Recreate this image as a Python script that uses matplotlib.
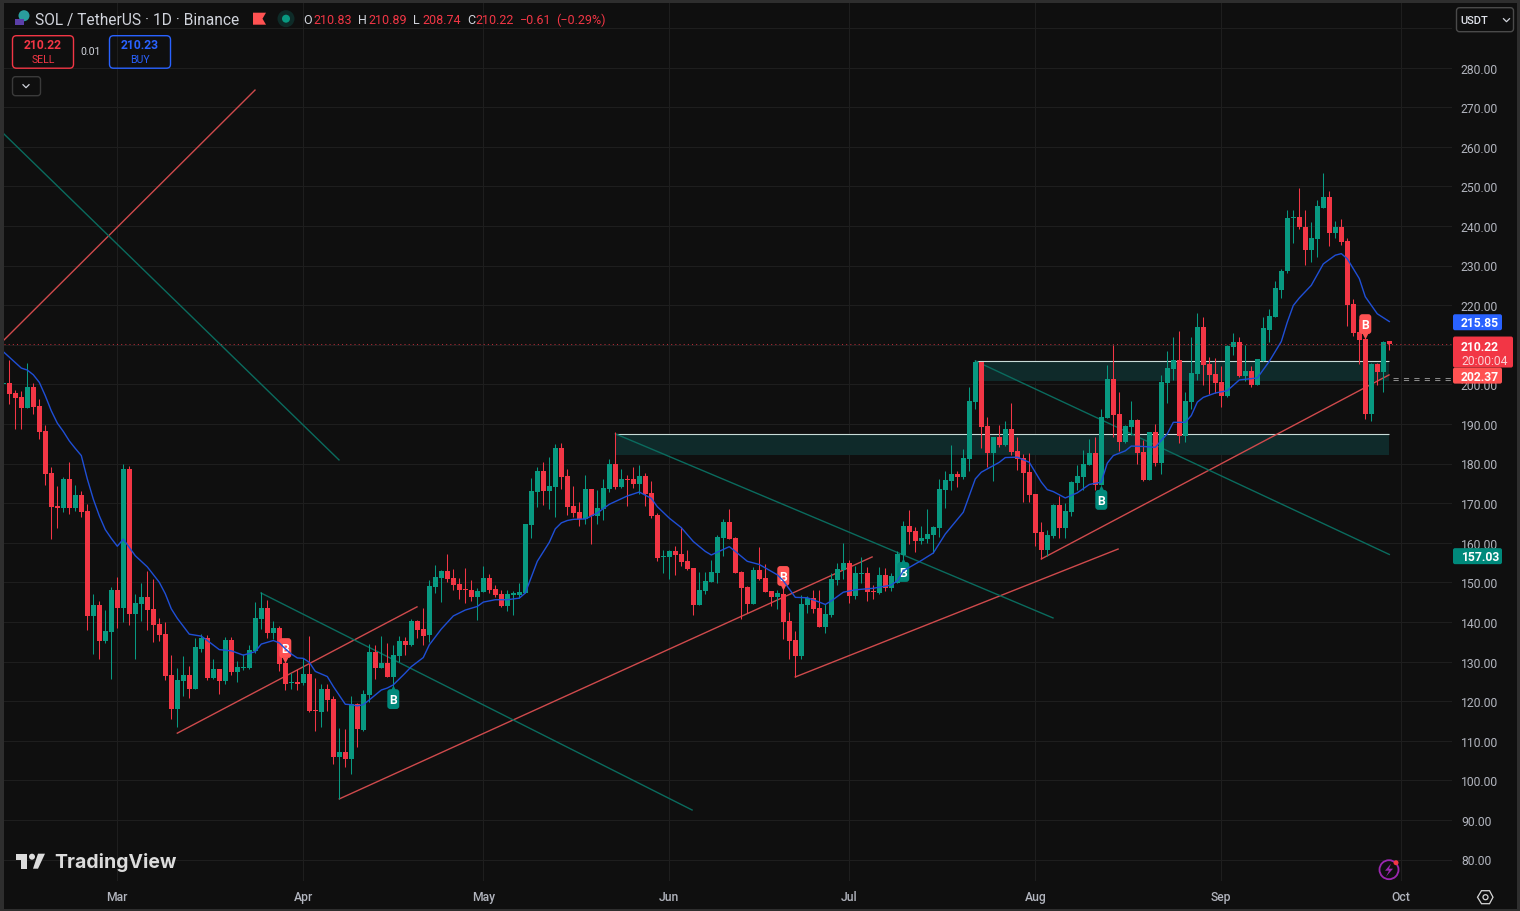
import numpy as np
import matplotlib
matplotlib.use("Agg")
import matplotlib.pyplot as plt
from matplotlib.patches import FancyBboxPatch, Rectangle, Polygon, Circle

# ---------- data (prices in USDT, candle index 0 = x of first full candle) ----------
opens = [200.0,200.3,197.8,196.8,194.0,199.3,194.5,188.2,177.6,169.3,
168.8,176.1,168.8,172.1,168.0,141.5,144.3,135.2,137.5,148.1,
143.5,178.6,142.0,144.5,146.3,143.3,139.5,137.0,126.6,118.0,
125.1,126.6,123.1,133.2,135.9,125.8,128.1,125.1,135.4,127.4,
128.4,128.4,132.7,140.7,143.5,137.2,138.5,129.6,124.6,124.8,
124.5,126.8,117.7,117.2,123.0,120.5,105.8,107.1,105.3,119.2,
112.7,121.5,132.4,128.3,129.6,126.0,131.3,135.1,134.1,140.2,
138.2,136.6,148.8,151.0,152.8,151.0,149.5,148.3,148.0,146.2,
147.5,151.0,148.3,147.0,144.0,146.8,146.7,147.3,164.4,172.8,
178.1,173.0,174.0,183.9,176.8,169.2,167.7,165.9,173.5,166.7,
168.5,173.5,179.8,174.0,176.0,176.0,174.8,176.8,172.5,167.0,
156.4,156.4,157.9,157.1,155.3,153.6,144.2,147.8,150.0,152.3,
161.1,165.2,161.1,152.6,148.8,144.5,153.1,151.0,147.8,146.2,
147.1,140.2,135.4,131.4,144.3,146.0,143.5,138.7,141.8,150.6,
153.2,154.9,146.5,152.1,152.4,147.8,147.3,151.9,148.6,149.8,
156.9,164.2,163.0,160.4,160.9,162.0,163.7,173.3,175.6,177.4,
176.6,181.1,195.5,205.6,189.5,182.7,186.7,184.7,188.7,183.2,
181.4,177.9,172.3,162.7,158.2,161.7,169.5,163.7,167.8,175.1,
176.6,179.6,182.7,174.6,191.5,201.3,192.5,185.4,189.2,191.0,
182.9,175.8,188.0,180.1,200.3,203.9,206.1,187.0,195.5,202.6,
214.5,205.1,202.6,200.6,197.1,209.4,210.7,202.1,203.4,199.8,
206.0,213.8,217.1,223.9,228.5,242.1,242.3,239.8,234.0,236.8,
244.6,247.4,238.3,239.6,236.3,220.4,213.3,211.5,192.6,205.2,
203.2,210.83]
highs = [200.5,206.1,198.6,198.4,205.4,200.3,196.3,189.7,179.1,174.3,
176.6,180.4,174.6,173.1,169.8,147.1,145.3,143.0,148.8,151.3,
179.9,179.4,147.1,149.8,152.9,150.8,141.0,140.0,131.6,128.4,
131.4,128.9,135.9,136.9,136.7,130.6,128.1,136.2,136.2,130.1,
131.9,134.2,145.0,147.5,145.5,140.2,139.0,130.5,127.1,128.1,
130.8,136.4,125.8,124.3,124.3,121.2,113.2,112.9,121.2,119.5,
122.8,134.4,134.1,136.4,134.6,134.1,136.4,136.1,140.7,140.4,
143.5,150.5,154.3,153.1,157.1,153.3,151.0,153.6,150.5,148.5,
154.1,152.1,149.3,148.0,148.0,147.8,149.8,164.7,176.3,179.1,
180.3,181.6,184.9,185.1,178.6,174.3,170.2,177.1,173.5,173.3,
176.0,181.1,187.9,178.6,177.1,179.1,179.6,177.6,175.5,167.5,
158.1,158.1,159.1,163.9,158.1,153.6,152.6,152.6,155.6,161.9,
165.9,168.5,161.4,152.8,149.0,153.8,158.9,154.6,147.8,148.0,
149.8,142.5,137.7,146.7,146.5,148.1,148.1,144.5,152.4,154.9,
159.9,155.6,154.1,156.4,153.9,149.3,153.8,153.6,152.4,157.9,
165.5,168.3,164.0,164.2,168.5,164.2,176.1,178.1,184.7,178.1,
183.7,199.3,206.1,205.6,191.8,186.7,189.7,190.7,195.3,186.7,
182.4,182.7,172.3,165.2,163.2,169.8,171.8,170.0,175.6,179.6,
183.4,186.2,186.7,193.8,204.9,209.9,198.1,189.7,195.8,191.2,
185.9,188.0,190.0,202.4,208.4,212.0,213.5,198.1,212.0,218.0,
217.0,206.9,206.6,204.6,209.9,213.0,212.0,209.9,204.6,206.4,
217.1,219.1,226.0,229.0,244.1,244.1,249.6,244.1,241.1,246.6,
253.4,248.7,241.3,241.8,237.0,221.6,216.5,212.5,205.5,205.5,
211.0,210.89]
lows = [199.8,195.0,188.6,188.7,194.0,192.5,186.2,174.6,160.9,163.7,
167.8,167.3,168.0,166.5,138.0,131.9,130.6,134.7,125.6,138.5,
140.0,139.2,130.6,140.2,138.0,134.9,135.2,125.3,115.5,113.5,
121.3,120.8,123.1,132.4,125.3,125.6,121.8,124.3,126.6,124.8,
127.9,128.1,132.2,138.2,135.9,135.7,127.6,122.8,123.1,122.8,
124.1,117.2,112.4,113.4,117.5,104.1,95.3,103.3,101.5,108.4,
112.4,119.7,125.5,128.3,126.0,123.3,129.8,131.6,133.9,135.9,
134.1,134.9,147.3,145.0,150.0,148.0,145.7,144.7,145.2,140.4,
147.5,147.3,146.2,143.7,142.7,141.7,146.0,147.3,161.1,169.0,
169.5,168.5,166.4,173.5,167.0,166.4,164.2,164.7,159.6,164.7,
165.7,172.8,173.5,173.8,169.2,173.8,172.3,169.2,166.2,155.3,
152.3,150.8,151.8,154.1,153.1,141.7,144.2,147.0,150.0,149.8,
156.6,160.9,152.3,140.7,142.2,144.5,150.5,147.5,144.0,143.2,
135.7,130.6,126.1,130.6,142.3,142.3,138.7,137.2,141.2,149.3,
150.8,144.8,145.8,149.8,145.3,145.8,147.1,147.8,147.8,149.8,
155.5,159.7,157.7,159.7,160.0,157.4,161.4,168.8,173.3,174.1,
176.1,178.1,193.8,183.9,179.1,175.6,184.2,184.4,182.2,178.4,
170.3,170.3,159.2,155.9,156.6,161.2,161.2,161.2,166.8,173.3,
173.3,179.6,173.3,174.6,191.5,186.7,183.2,185.2,187.2,179.9,
175.6,175.8,179.4,177.4,195.3,201.1,185.2,185.4,193.8,201.0,
199.8,197.6,197.8,194.3,196.8,207.4,201.9,200.8,199.3,199.8,
206.0,210.8,217.1,221.7,228.2,235.8,239.3,230.2,231.0,232.2,
244.6,235.0,237.0,235.3,214.6,212.3,205.1,191.3,190.8,199.9,
198.1,208.74]
closes = [200.3,197.6,196.5,194.0,199.3,194.3,188.0,177.4,169.0,168.8,
176.1,168.8,172.1,167.8,141.5,144.3,135.2,137.7,148.1,143.5,
178.6,142.0,144.8,146.3,143.0,139.2,136.7,126.3,118.0,125.3,
126.6,123.1,133.7,135.9,125.8,128.1,125.1,135.4,127.4,128.6,
128.6,132.9,141.0,143.5,137.2,138.5,129.4,124.3,124.8,124.3,
126.8,117.5,117.5,123.0,120.2,105.8,107.1,105.3,119.2,112.9,
121.7,132.4,128.3,129.6,126.0,131.6,135.1,134.1,140.2,137.9,
136.4,149.0,151.3,152.8,150.8,149.3,148.0,148.0,146.2,147.8,
151.0,148.0,146.7,144.0,147.0,147.2,147.5,164.7,173.0,178.1,
173.0,174.3,183.9,176.5,169.0,167.5,165.9,173.5,166.7,168.7,
173.8,179.8,174.0,176.0,175.8,174.8,176.8,172.3,166.7,156.1,
156.6,157.9,156.9,155.1,153.3,144.2,148.0,150.3,152.6,161.4,
165.2,160.9,152.3,148.5,144.5,153.1,150.8,147.5,146.2,147.3,
140.0,135.2,131.4,144.5,146.0,143.3,138.7,142.0,150.8,153.4,
154.9,146.5,152.4,152.4,147.6,147.5,151.9,148.6,151.6,157.2,
164.2,162.7,160.4,161.2,162.2,164.0,173.6,175.8,177.4,176.6,
181.4,195.8,205.6,189.2,182.7,186.7,184.7,188.7,182.9,181.1,
177.6,172.1,162.5,158.2,162.0,169.5,163.7,168.0,175.3,176.9,
179.9,182.7,174.6,191.8,201.3,192.3,185.4,189.5,191.0,182.7,
175.8,188.0,180.1,200.6,204.1,206.1,187.0,195.8,202.9,214.5,
204.9,202.4,200.3,197.1,209.7,210.7,202.1,203.4,199.8,206.4,
214.1,217.3,224.2,228.7,242.1,242.3,239.6,234.0,237.0,244.9,
247.4,238.3,239.6,236.0,220.1,213.0,211.3,192.6,205.2,203.2,
210.8,210.22]
candle_first = -1

ma_k = [-0.9,2,3,4,5,6,7,8,9,10,11,12,13,14,15,16,17,18,19,20,21,23,25,26,27,28,30,32,33,35,37,39,41,42,44,45,46,47,48,
        49,50,51,53,54,56,57,58,59,60,62,63,64,66,67,69,70,72,74,76,78,79,81,83,85,86,88,90,91,92,93,
        94,96,98,100,103,105,107,108,110,112,114,116,117,120,121,123,125,128,129,131,133,135,136,137,139,141,144,147,148,
        149,152,154,156,159,160,161,162,165,166,168,170,171,172,173,174,176,178,180,182,183,184,186,187,189,191,193,194,
        196,197,198,199,201,203,205,208,210,212,213,214,215,217,219,221,222,223,225,226,228,230]
ma_val = [208.1,204.1,203.6,202.4,200.5,197.1,193.3,190.2,188.1,185.7,183.8,182.0,176.1,171.0,166.8,163.3,161.1,159.1,160.9,158.8,156.7,153.9,150.0,147.1,143.3,140.9,136.9,136.4,135.3,133.0,132.7,131.6,132.5,134.4,135.3,134.7,133.2,131.9,130.9,
          130.8,129.8,127.5,126.2,123.7,119.2,119.1,118.8,119.1,120.3,122.8,123.3,124.1,127.1,128.7,131.0,134.2,138.2,141.5,143.0,143.9,145.0,145.6,145.6,146.0,147.3,155.3,160.1,163.5,165.0,165.6,
          165.9,166.0,167.5,169.7,171.8,172.8,171.2,169.1,166.2,163.8,160.3,157.8,156.9,159.0,157.8,155.3,154.5,151.9,150.4,146.2,146.1,145.0,144.4,145.3,147.5,148.1,148.5,149.3,150.4,
          152.9,155.5,157.4,162.2,167.7,171.9,176.1,177.8,180.3,181.5,181.6,180.3,177.8,175.3,173.4,172.9,171.3,172.6,174.7,175.3,180.1,182.0,183.2,184.4,184.3,184.1,187.5,190.4,
          190.4,192.1,195.5,196.7,197.8,198.4,201.1,201.6,205.8,210.8,215.7,219.9,221.8,225.0,230.4,232.6,233.0,231.7,226.7,222.1,217.8,215.85]

# trend lines: (k0, price0, k1, price1)
red_lines = [(-0.88,211.2,40.95,274.3),(28,111.9,67.95,143.8),(55.0,95.3,143.8,156.4),
             (131.0,126.1,184.8,158.4),(172.0,155.9,229.95,202.37)]
green_lines = [(-0.88,263.2,54.95,180.9),(41.95,147.3,113.8,92.5),(101,187.5,173.95,141.0),(161.0,205.9,230,157.03)]
# zones: (k0, k1, low, high)
zones = [(101,230,182.2,187.5),(161.0,230,200.8,205.9)]

price_ticks = list(range(80,300,10))
price_labels = [f"{p:.2f}" if p != 290 else "" for p in price_ticks]
month_ticks = [18,49,79,110,140,171,202,232]
month_labels = ["Mar","Apr","May","Jun","Jul","Aug","Sep","Oct"]

sell_k = [46,129,226]; sell_p = [133.4,151.6,215.2]
buy_k = [64,149,182]; buy_p = [120.5,152.6,170.8]

last_price = 210.22
ma_last = 215.85
line_red_last = 202.37
line_green_last = 157.03
cross_prices = [201.5,201.0]

# ---------- style ----------
BG = "#0f0f0f"; GRID = "#1e1e1e"; UP = "#089981"; DN = "#f23645"; TXT = "#b2b5be"; LBL = "#d1d4dc"
plt.rcParams["font.family"] = ["Roboto","DejaVu Sans"]
W,H = 1520,912
fig = plt.figure(figsize=(W/100,H/100),dpi=100,facecolor=BG)
L,R,T,B = 4,1452,3,882
ax = fig.add_axes([L/W,1-B/H,(R-L)/W,(B-T)/H],facecolor=BG)
px_per_k = 6.0; px_per_usd = 3.96
ax.set_xlim((L-9.3)/px_per_k,(R-9.3)/px_per_k)
ax.set_ylim(280-(B-68.5)/px_per_usd,280-(T-68.5)/px_per_usd)
for s in ax.spines.values(): s.set_visible(False)
ax.yaxis.tick_right()
ax.set_yticks(price_ticks); ax.set_yticklabels(price_labels)
ax.set_xticks(month_ticks); ax.set_xticklabels(month_labels,fontweight="medium")
ax.tick_params(axis="both",length=0,labelcolor=TXT,labelsize=8.7)
ax.tick_params(axis="y",pad=6.4)
ax.tick_params(axis="x",pad=6.4)
ax.grid(True,color=GRID,lw=0.75,zorder=0)
ax.set_axisbelow(True)

for k0,k1,lo,hi in zones:
    ax.add_patch(Rectangle((k0,lo),k1-k0,hi-lo,fc="#0f2a2a",ec="none",zorder=1))
    ax.plot([k0,k1],[hi,hi],color="#c8dcd8",lw=0.8,zorder=1.1,solid_capstyle="butt")
for a,b,c,d in red_lines:
    ax.plot([a,c],[b,d],color="#cf4a4c",lw=1.0,zorder=1.5)
for a,b,c,d in green_lines:
    ax.plot([a,c],[b,d],color="#0a6b5e",lw=1.0,zorder=1.5)

ks = np.arange(candle_first,candle_first+len(opens))
o,h,l,c = map(np.array,(opens,highs,lows,closes))
cols = np.where(c>=o,UP,DN)
ax.vlines(ks,l,h,colors=cols,lw=0.75,zorder=2)
bottoms = np.minimum(o,c); heights = np.maximum(np.abs(c-o),0.25)
ax.bar(ks,heights,bottom=bottoms,width=0.8,color=cols,linewidth=0,zorder=2.1)

# B markers
def marker(k,p,col,up):
    ax.add_patch(FancyBboxPatch((k-1.0,p-2.5),2.0,5.0,boxstyle="round,pad=0,rounding_size=0.5",
                                mutation_aspect=1.515,fc=col,ec="none",zorder=3))
    ax.plot([k],[p+2.9 if up else p-2.9],marker="^" if up else "v",ms=5,color=col,mec="none",zorder=3)
    ax.text(k,p-0.1,"B",color="white",fontsize=8.7,fontweight="bold",ha="center",va="center",zorder=3.1)
for k,p in zip(sell_k,sell_p): marker(k,p,"#ff5252",False)
for k,p in zip(buy_k,buy_p): marker(k,p,"#00897b",True)

ax.plot(ma_k,ma_val,color="#1f4fd6",lw=1.0,zorder=4,solid_joinstyle="round")
ax.axhline(last_price,color=DN,lw=0.75,alpha=0.75,ls=(0,(1,3)),zorder=4)
for p in cross_prices:
    ax.plot([230.6,240.45],[p,p],color="#8a8a8a",lw=0.75,ls=(0,(5,5)),zorder=4)

# ---------- chrome overlay in pixel coords ----------
ov = fig.add_axes([0,0,1,1],facecolor="none",zorder=10)
ov.set_xlim(0,W); ov.set_ylim(H-0.7,-0.7); ov.axis("off")
fig.canvas.draw()
def yp(v):
    return H-ax.transData.transform((0,v))[1]

for r in [(0,-1,W,4),(0,0,4,H),(0,909.5,W,4),(1517,0,3,H)]:
    ov.add_patch(Rectangle((r[0],r[1]),r[2],r[3],fc="#2e2e2e",ec="none"))

def box(x,y,w,h,fc="none",ec="none",r=3,lw=1):
    ov.add_patch(FancyBboxPatch((x,y),w,h,boxstyle=f"round,pad=0,rounding_size={r}",fc=fc,ec=ec,lw=lw))
def t(x,y,s,col=LBL,size=8.7,ha="left",va="center",**kw):
    ov.text(x,y,s,color=col,fontsize=size,ha=ha,va=va,**kw)

# price scale tags
box(1453,yp(ma_last)-8,49,16,fc="#2962ff",r=2)
t(1461,yp(ma_last)+0.5,f"{ma_last:.2f}","white",fontweight="bold")
box(1453,yp(last_price)-8,60,31,fc=DN,r=2)
t(1461,yp(last_price)+1.5,f"{last_price:.2f}","white",fontweight="bold")
t(1461,yp(last_price)+15.5,"20:00:04","#fbd0d4")
box(1453,yp(line_red_last)-8,49,16,fc="#ff5252",r=2)
t(1461,yp(line_red_last)+0.5,f"{line_red_last:.2f}","white",fontweight="bold")
box(1453,yp(line_green_last)-7,49,16,fc="#00897b",r=2)
t(1461,yp(line_green_last)+1.5,f"{line_green_last:.2f}","white",fontweight="bold")

# header
ov.add_patch(Circle((24,16),5.5,fc="#2a9d9d",ec="none"))
ov.add_patch(Rectangle((15,19),9,6,fc="#5b3fa8",ec="none"))
t(35,19.5,"SOL / TetherUS · 1D · Binance",LBL,11.2)
ov.add_patch(Polygon([(253,13),(266,13),(262.5,19),(266,25),(253,25)],fc="#ff5252",ec="none"))
ov.add_patch(Circle((286,19),8.5,fc="#0e2b28",ec="none"))
ov.add_patch(Circle((286,19),4,fc="#089981",ec="none"))
for x,s,col in [(303,"O",LBL),(313,"210.83",DN),(358,"H",LBL),(368,"210.89",DN),(413,"L",LBL),(422,"208.74",DN),
                (467,"C",LBL),(475,"210.22",DN),(520,"−0.61",DN),(556,"(−0.29%)",DN)]:
    t(x,19.5,s,col,9.0)
box(12.5,36,61,32.5,ec=DN,r=4)
t(43,45,"210.22",DN,8.7,ha="center",fontweight="bold")
t(43,59.5,"SELL",DN,7.6,ha="center")
t(91,51,"0.01",LBL,7.6,ha="center")
box(109.5,36,61,32.5,ec="#2962ff",r=4)
t(140,45,"210.23","#2962ff",8.7,ha="center",fontweight="bold")
t(140,59.5,"BUY","#2962ff",7.6,ha="center")
box(12.5,77,28,19,ec="#3a3a3a",r=3)
ov.plot([23,26,29],[85,88,85],color=LBL,lw=0.9)

# currency button
box(1456.5,8,57,24,ec="#4a4a4a",fc=BG,r=3)
t(1474,20,"USDT","#e0e3eb",8.0,ha="center",fontweight="medium")
ov.plot([1503.5,1506.5,1509.5],[19,22,19],color=LBL,lw=0.9)

# logo
ov.add_patch(Polygon([(16,854),(27,854),(27,869),(21,869),(21,860),(16,860)],fc="#dcdcdc",ec="none"))
ov.add_patch(Circle((32,857),3,fc="#dcdcdc",ec="none"))
ov.add_patch(Polygon([(38,854),(45,854),(38,869),(33,869)],fc="#dcdcdc",ec="none"))
t(54,862,"TradingView","#dcdcdc",14.0,fontweight="bold",family=["Inter","DejaVu Sans"])

# bolt + settings icons
ov.add_patch(Circle((1389,870),9.5,fc="none",ec="#9c27b0",lw=1.3))
ov.add_patch(Polygon([(1391,864),(1385,871),(1389,871),(1386,877),(1393,869),(1389,869)],fc="#9c27b0",ec="none"))
ov.add_patch(Circle((1396,863),2.5,fc=DN,ec="none"))
hexpts = [(1477.5,897.5),(1481.5,891),(1489.5,891),(1493,897.5),(1489.5,904),(1481.5,904)]
ov.add_patch(Polygon(hexpts,fc="none",ec="#d8d8d8",lw=0.9))
ov.add_patch(Circle((1485.5,897.5),2.5,fc="none",ec="#d8d8d8",lw=0.9))

fig.savefig("out.png",dpi=100,facecolor=BG)
